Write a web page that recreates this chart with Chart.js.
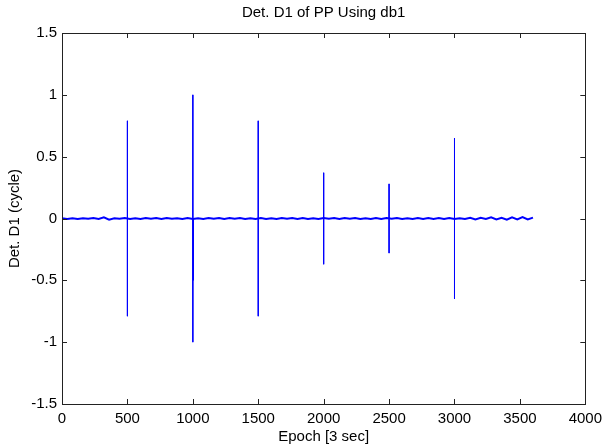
<!DOCTYPE html>
<html>
<head>
<meta charset="utf-8">
<script src="https://cdn.jsdelivr.net/npm/chart.js@4/dist/chart.umd.min.js"></script>
<style>
  body { margin: 0; background: #fff; }
  #wrap { width: 608px; height: 447px; }
</style>
</head>
<body>
<div id="wrap"><canvas id="d1Chart" width="608" height="447"></canvas></div>
<script>
// 标题和轴标签
var titleText = 'Det. D1 of PP Using db1';
var xTitle = 'Epoch [3 sec]';
var yTitle = 'Det. D1 (cycle)';

// 刻度
var xTickValues = [0, 500, 1000, 1500, 2000, 2500, 3000, 3500, 4000];
var xTickLabels = ['0', '500', '1000', '1500', '2000', '2500', '3000', '3500', '4000'];
var yTickValues = [-1.5, -1, -0.5, 0, 0.5, 1, 1.5];
var yTickLabels = ['-1.5', '-1', '-0.5', '0', '0.5', '1', '1.5'];

// 基线噪声, 每 40 个 epoch 一个点
var noiseStep = 40;
var noiseValues = [
    0.002, -0.003, 0.002, -0.003, 0.002, -0.002, 0.003, -0.003, 0.010, -0.009,
    0.002, -0.002, 0.003, -0.003, 0.002, -0.003, 0.003, -0.002, 0.003, -0.003,
    0.003, -0.002, 0.002, -0.003, 0.003, -0.003, 0.002, -0.003, 0.003, -0.002,
    0.003, -0.003, 0.003, -0.002, 0.003, -0.003, 0.002, -0.003, 0.003, -0.003,
    0.002, -0.003, 0.003, -0.002, 0.003, -0.003, 0.003, -0.003, 0.002, -0.003,
    0.003, -0.002, 0.003, -0.003, 0.003, -0.002, 0.003, -0.003, 0.002, -0.003,
    0.003, -0.003, 0.003, -0.002, 0.003, -0.003, 0.002, -0.003, 0.003, -0.003,
    0.003, -0.003, 0.003, -0.003, 0.003, -0.003, 0.002, -0.003, 0.006, -0.008,
    0.005, -0.004, 0.010, -0.008, 0.006, -0.010, 0.009, -0.007, 0.011, -0.008,
    0.007
];

// 尖峰
var spikeEpochs = [500, 1000, 1003, 1500, 2000, 2500, 3000];
var spikeHigh = [0.79, 1.00, 0, 0.79, 0.37, 0.28, 0.65];
var spikeLow = [-0.79, -1.00, -0.50, -0.79, -0.37, -0.28, -0.65];

var noisePoints = noiseValues.map(function (v, i) {
    return {x: i * noiseStep, y: v};
});
var spikePoints = [];
spikeEpochs.forEach(function (e, i) {
    spikePoints.push({x: e, y: NaN});
    spikePoints.push({x: e, y: spikeHigh[i]});
    spikePoints.push({x: e, y: spikeLow[i]});
});

var font = {family: '"Liberation Sans", Arial, Helvetica, sans-serif', size: 15};

// 坐标框和向内的刻度
var boxPlugin = {
    id: 'box',
    afterDraw: function (chart) {
        var ctx = chart.ctx;
        var a = chart.chartArea;
        var xs = chart.scales.x, ys = chart.scales.y;
        ctx.save();
        ctx.strokeStyle = '#222';
        ctx.lineWidth = 1;
        ctx.strokeRect(Math.round(a.left) + 0.5, Math.round(a.top) + 0.5,
            Math.round(a.right - a.left), Math.round(a.bottom - a.top));
        ctx.beginPath();
        xTickValues.forEach(function (v) {
            var px = Math.round(xs.getPixelForValue(v)) + 0.5;
            ctx.moveTo(px, a.bottom); ctx.lineTo(px, a.bottom - 5);
            ctx.moveTo(px, a.top); ctx.lineTo(px, a.top + 5);
        });
        yTickValues.forEach(function (v) {
            var py = Math.round(ys.getPixelForValue(v)) + 0.5;
            ctx.moveTo(a.left, py); ctx.lineTo(a.left + 5, py);
            ctx.moveTo(a.right, py); ctx.lineTo(a.right - 5, py);
        });
        ctx.stroke();
        ctx.restore();
    }
};

var d1Chart = new Chart(document.getElementById('d1Chart').getContext('2d'), {
    type: 'line',
    data: {
        datasets: [{
            data: noisePoints,
            borderColor: '#0000ff',
            borderWidth: 2,
            pointRadius: 0,
            tension: 0,
            fill: false
        }, {
            data: spikePoints,
            borderColor: '#0000ff',
            borderWidth: 1,
            pointRadius: 0,
            tension: 0,
            spanGaps: false,
            fill: false
        }]
    },
    options: {
        responsive: false,
        animation: false,
        layout: {padding: {left: 0, right: 20, top: 0, bottom: 0}},
        plugins: {
            legend: {display: false},
            tooltip: {enabled: false},
            title: {
                display: true,
                text: titleText,
                color: '#000',
                fullSize: false,
                font: {family: font.family, size: 15, weight: 'normal'},
                padding: {top: 4, bottom: 11}
            }
        },
        scales: {
            x: {
                type: 'linear',
                min: 0,
                max: 4000,
                afterBuildTicks: function (scale) {
                    scale.ticks = xTickValues.map(function (v) { return {value: v}; });
                },
                afterFit: function (scale) { scale.height = 43; },
                ticks: {
                    color: '#000',
                    font: font,
                    padding: 6,
                    maxRotation: 0,
                    callback: function (v) { return xTickLabels[xTickValues.indexOf(v)]; }
                },
                grid: {display: false, drawTicks: false},
                border: {display: false},
                title: {display: true, text: xTitle, color: '#000', font: font, padding: {top: 0, bottom: 1}}
            },
            y: {
                type: 'linear',
                min: -1.5,
                max: 1.5,
                afterBuildTicks: function (scale) {
                    scale.ticks = yTickValues.map(function (v) { return {value: v}; });
                },
                afterFit: function (scale) { scale.width = 62; },
                ticks: {
                    color: '#000',
                    font: font,
                    padding: 5,
                    callback: function (v) { return yTickLabels[yTickValues.indexOf(v)]; }
                },
                grid: {display: false, drawTicks: false},
                border: {display: false},
                title: {display: true, text: yTitle, color: '#000', font: font, padding: {top: 6, bottom: 0}}
            }
        }
    },
    plugins: [boxPlugin]
});
</script>
</body>
</html>
